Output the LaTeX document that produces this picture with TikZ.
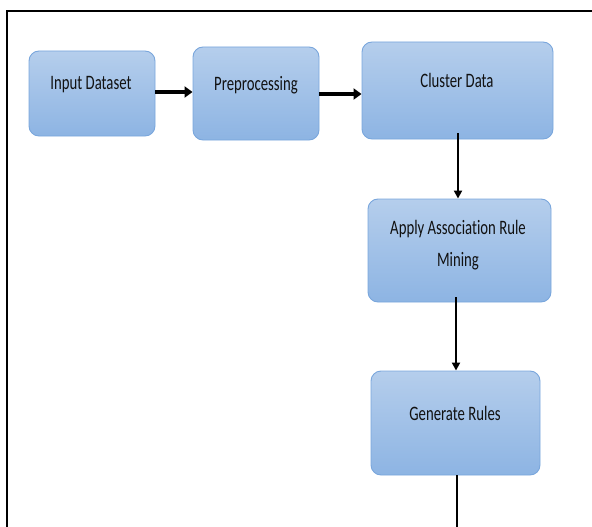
\documentclass[tikz,border=0pt]{standalone}
\usepackage{fontspec}
\newfontfamily\boxfont[FakeStretch=0.72,Ligatures=CommonOff]{Carlito}
\usetikzlibrary{arrows.meta,shadings}
\definecolor{boxtop}{HTML}{B5CEEC}
\definecolor{boxbot}{HTML}{8DB4E3}
\definecolor{boxedge}{HTML}{79A6DC}
\definecolor{txt}{HTML}{111111}
\tikzset{
  stepbox/.style={draw=boxedge, line width=0.9pt, rounded corners=10pt,
    top color=boxtop, bottom color=boxbot, inner sep=0pt},
  boxtext/.style={font=\boxfont\fontsize{20.5}{32}\selectfont, text=txt, align=center, inner sep=0pt},
  harrow/.style={line width=3.2pt, -{Triangle[length=8pt,width=11pt]}},
  varrow/.style={line width=2.3pt, -{Triangle[length=8pt,width=8pt]}},
}
\begin{document}
\begin{tikzpicture}[x=1pt,y=-1pt]
\useasboundingbox (0,0) rectangle (592,527);
% frame
\draw[line width=2pt] (7,527) -- (7,11) -- (592,11);
% boxes
\node[stepbox, minimum width=126pt, minimum height=85pt] (in) at (92,93.5) {};
\node[stepbox, minimum width=126pt, minimum height=93pt] (pre) at (256,93.5) {};
\node[stepbox, minimum width=191pt, minimum height=97pt] (clu) at (457.5,90.5) {};
\node[stepbox, minimum width=183pt, minimum height=103pt] (app) at (459.5,250.5) {};
\node[stepbox, minimum width=169pt, minimum height=104pt] (gen) at (455.5,423) {};
% texts
\node[boxtext] (tin) at (91,85) {Input Dataset};
\node[boxtext] (tpre) at (256,85) {Preprocessing};
\node[boxtext] (tclu) at (457,80) {Cluster Data};
\node[boxtext] (tapp1) at (458,229) {Apply Association Rule};
\node[boxtext] (tapp2) at (458,261) {Mining};
\node[boxtext] (tgen) at (455,413) {Generate Rules};
% connectors
\draw[harrow] (in.east |- 0,92) -- (pre.west |- 0,92);
\draw[harrow] (pre.east |- 0,94) -- (clu.west |- 0,94);
\draw[varrow, shorten <=-6pt] (clu.south -| 458,0) -- (app.north -| 458,0);
\draw[varrow, shorten <=-5pt] (app.south -| 456,0) -- (gen.north -| 456,0);
\coordinate (bottom) at (457,527);
\draw[line width=2.3pt] (gen.south -| 457,0) -- (bottom);
\end{tikzpicture}
\end{document}
